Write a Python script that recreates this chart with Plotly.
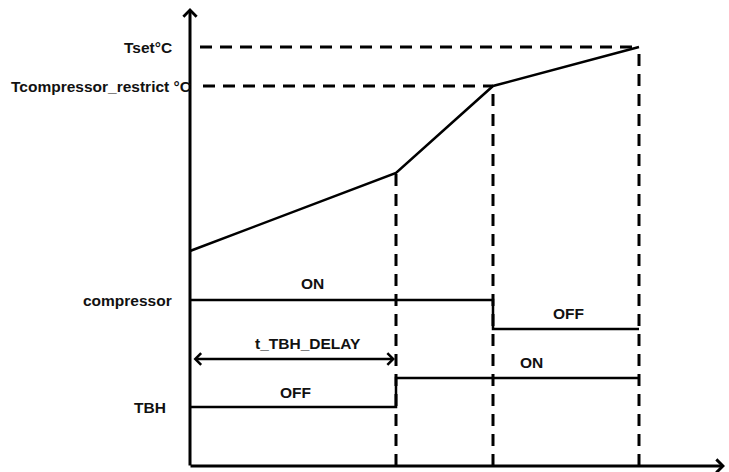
import plotly.graph_objects as go

### data (origin of the chart = crossing of the two axes)
t_points = [0, 206, 303, 449]          # start, end of TBH delay, restrict temp reached, Tset reached
temp_values = [215, 293, 380, 419]     # water temperature at those times
compressor_levels = {'ON': 166, 'OFF': 137}
tbh_levels = {'OFF': 59, 'ON': 88}
level_names = ['Tset°C', 'Tcompressor_restrict °C', 'compressor', 'TBH']

axis_top = 458
axis_right = 535
delay_arrow_y = 107

ink = 'black'
font_face = 'Arial, Liberation Sans, sans-serif'

fig = go.Figure()

### dashed guide lines
xs, ys = [], []
for i in range(1, 4):
    xs += [t_points[i], t_points[i], None]
    ys += [0, temp_values[i], None]
xs += [10, t_points[3], None, 13, t_points[2]]
ys += [temp_values[3], temp_values[3], None, temp_values[2], temp_values[2]]
fig.add_trace(go.Scatter(x=xs, y=ys, mode='lines',
                         line=dict(color=ink, width=3, dash='12px,8px')))

### temperature curve
fig.add_trace(go.Scatter(x=t_points, y=temp_values, mode='lines',
                         line=dict(color=ink, width=2.5)))

### compressor state
fig.add_trace(go.Scatter(x=[0, t_points[2], t_points[3]],
                         y=[compressor_levels['ON'], compressor_levels['OFF'], compressor_levels['OFF']],
                         mode='lines', line=dict(color=ink, width=2.5, shape='hv')))

### TBH state
fig.add_trace(go.Scatter(x=[0, t_points[1], t_points[3]],
                         y=[tbh_levels['OFF'], tbh_levels['ON'], tbh_levels['ON']],
                         mode='lines', line=dict(color=ink, width=2.5, shape='hv')))

### axes as arrows
arrow = dict(text='', showarrow=True, axref='x', ayref='y', arrowcolor=ink,
             arrowhead=4, arrowsize=0.85, arrowwidth=3)
fig.add_annotation(x=0, y=axis_top, ax=0, ay=-1, **arrow)
fig.add_annotation(x=axis_right, y=0, ax=-1, ay=0, **arrow)

### delay arrow
fig.add_annotation(x=t_points[1] - 1, y=delay_arrow_y, ax=2, ay=delay_arrow_y, text='',
                   showarrow=True, axref='x', ayref='y', arrowcolor=ink,
                   arrowhead=4, startarrowhead=4, arrowside='end+start',
                   arrowsize=0.9, startarrowsize=0.9, arrowwidth=2.5)

### texts
def label(x, y, s, anchor='center'):
    fig.add_annotation(x=x, y=y, text='<b>' + s + '</b>', showarrow=False,
                       xanchor=anchor, yanchor='middle',
                       font=dict(family=font_face, size=15.5, color='#111'))

label(-16, temp_values[3], level_names[0], 'right')
label(3, temp_values[2], level_names[1], 'right')
label(-16, compressor_levels['ON'], level_names[2], 'right')
label(-22, tbh_levels['OFF'], level_names[3], 'right')

label(122, 183, 'ON')
label(118, 123, 't_TBH_DELAY')
label(105, 74, 'OFF')
label(378, 153, 'OFF')
label(341, 104, 'ON')

fig.update_xaxes(visible=False, range=[-190, 539])
fig.update_yaxes(visible=False, range=[-6, 466])
fig.update_layout(width=729, height=472, showlegend=False,
                  margin=dict(l=0, r=0, t=0, b=0),
                  plot_bgcolor='white', paper_bgcolor='white')

fig.write_html("out.html", config={'displayModeBar': False},
               post_script="document.body.style.margin='0';")
